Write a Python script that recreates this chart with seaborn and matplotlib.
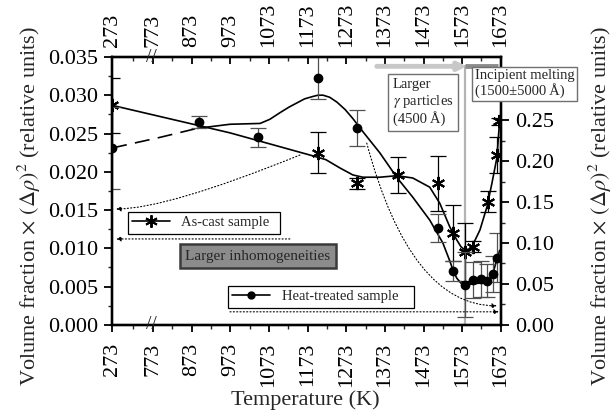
import numpy as np
import pandas as pd
import matplotlib
matplotlib.use('Agg')
import matplotlib.pyplot as plt
import seaborn as sns
from matplotlib.lines import Line2D
import matplotlib.transforms as mtransforms

# measured points: as-cast (left axis) and heat-treated (right axis)
cast_T = [273, 1200, 1300, 1407, 1510, 1549, 1580, 1600, 1639, 1662, 1668]
cast_v = [0.0287, 0.0225, 0.0185, 0.0196, 0.0185, 0.0120, 0.0095, 0.0102, 0.0161, 0.0222, 0.0266]
cast_err = [0.0036, 0.0027, 0.0007, 0.0024, 0.0036, 0.0037, 0.0038, 0.0007, 0.0014, 0.0023, 0.0005]

heat_T = [273, 892, 1045, 1200, 1300, 1510, 1549, 1580, 1600, 1621, 1636, 1652, 1662]
heat_v = [0.216, 0.248, 0.229, 0.302, 0.240, 0.118, 0.066, 0.049, 0.055, 0.056, 0.054, 0.062, 0.082]
heat_err = [0.050, 0.007, 0.012, 0.026, 0.022, 0.017, 0.012, 0.040, 0.022, 0.022, 0.020, 0.022, 0.030]

# fitted curves
cast_fit_T = [273, 972, 1179, 1220, 1257, 1290, 1316, 1360, 1404, 1445, 1489, 1515,
              1541, 1559, 1570, 1580, 1590, 1600, 1619, 1637, 1650, 1663, 1670]
cast_fit_v = [0.0287, 0.0251, 0.0222, 0.0216, 0.0205, 0.0196, 0.0193, 0.0193, 0.0195, 0.0192,
              0.0180, 0.0159, 0.0128, 0.0111, 0.0102, 0.0098, 0.0099, 0.0104, 0.0124, 0.0154,
              0.0185, 0.0219, 0.0268]
heat_dash_T = [273, 791, 887]
heat_dash_v = [0.216, 0.229, 0.240]
heat_fit_T = [887, 972, 1050, 1075, 1101, 1125, 1145, 1165, 1187, 1200, 1213, 1230, 1249,
              1270, 1290, 1316, 1360, 1404, 1445, 1489, 1523, 1541, 1550, 1559, 1570, 1580,
              1600, 1637, 1650, 1665, 1670]
heat_fit_v = [0.240, 0.245, 0.246, 0.251, 0.259, 0.266, 0.271, 0.276, 0.279, 0.2805, 0.2805,
              0.278, 0.272, 0.263, 0.252, 0.236, 0.210, 0.180, 0.156, 0.128, 0.100, 0.078,
              0.066, 0.057, 0.051, 0.049, 0.050, 0.052, 0.059, 0.083, 0.091]

x_ticks = [273, 773, 873, 973, 1073, 1173, 1273, 1373, 1473, 1573, 1673]
x_minor = [523, 823, 923, 1023, 1123, 1223, 1323, 1423, 1523, 1623]
left_ticks = [0.000, 0.005, 0.010, 0.015, 0.020, 0.025, 0.030, 0.035]
right_ticks = [0.00, 0.05, 0.10, 0.15, 0.20, 0.25]

sns.set_theme(style='ticks')
plt.rcParams['font.family'] = ['Liberation Serif', 'DejaVu Serif']
plt.rcParams['mathtext.fontset'] = 'stix'

# broken x axis: 273..773 squeezed
K = 0.212
def fwd(t):
    t = np.asarray(t, float)
    return np.where(t < 773, 773 - (773 - t) * K, t)
def inv(u):
    u = np.asarray(u, float)
    return np.where(u < 773, 773 - (773 - u) / K, u)

fig, ax = plt.subplots(figsize=(6.16, 4.17), dpi=100)
fig.subplots_adjust(left=0.182, right=0.813, bottom=0.221, top=0.863)
ax.set_xscale('function', functions=(fwd, inv))
ax2 = ax.twinx()
axt = ax.twiny()
axt.set_xscale('function', functions=(fwd, inv))

FS = 16
for a in (ax, ax2, axt):
    for s in a.spines.values():
        s.set_linewidth(1.6)
        s.set_color('black')

# incipient melting line (behind data)
ax.plot([1580, 1580], [0, 0.0338], color='#b4b4b4', lw=1.6, zorder=1)

# as-cast on left axis
cast_fit = pd.DataFrame({'T': cast_fit_T, 'v': cast_fit_v})
sns.lineplot(data=cast_fit, x='T', y='v', ax=ax, color='black', lw=1.2, sort=False, estimator=None)
ax.errorbar(cast_T, cast_v, yerr=cast_err, fmt='none', ecolor='black', elinewidth=0.9,
            capsize=5.5, capthick=0.9)
ax.plot(cast_T, cast_v, ls='none', marker=(6, 2, 0), ms=9.5, mew=1.5, color='black')

# heat-treated on right axis
heat_dash = pd.DataFrame({'T': heat_dash_T, 'v': heat_dash_v})
heat_fit = pd.DataFrame({'T': heat_fit_T, 'v': heat_fit_v})
sns.lineplot(data=heat_dash, x='T', y='v', ax=ax2, color='black', lw=1.2, sort=False,
             estimator=None, linestyle=(0, (9, 5)))
sns.lineplot(data=heat_fit, x='T', y='v', ax=ax2, color='black', lw=1.2, sort=False, estimator=None)
ax2.errorbar(heat_T, heat_v, yerr=heat_err, fmt='none', ecolor='#505050', elinewidth=0.9,
             capsize=5.5, capthick=0.9)
ax2.plot(heat_T, heat_v, ls='none', marker='o', ms=6, color='black')

ax.set_xlim(273, 1673)
axt.set_xlim(273, 1673)
ax.set_ylim(0, 0.035)
ax2.set_ylim(0, 0.327)
ax.set_xlabel('')
ax.set_ylabel('')
ax2.set_xlabel('')
ax2.set_ylabel('')

ax.set_xticks(x_ticks)
ax.set_xticks(x_minor, minor=True)
ax.set_xticklabels([str(t) for t in x_ticks], rotation=90, fontsize=FS)
axt.set_xticks(x_ticks)
axt.set_xticks(x_minor, minor=True)
axt.set_xticklabels([str(t) for t in x_ticks], rotation=90, fontsize=FS)
ax.set_yticks(left_ticks)
ax.set_yticks(np.arange(0.0025, 0.035, 0.005), minor=True)
ax.set_yticklabels(['%.3f' % v for v in left_ticks], fontsize=FS)
ax2.set_yticks(right_ticks)
ax2.set_yticks([0.025, 0.075, 0.125, 0.175, 0.225, 0.275], minor=True)
ax2.set_yticklabels(['%.2f' % v for v in right_ticks], fontsize=FS)

ax.tick_params(axis='x', which='major', direction='out', length=5, width=1.3, pad=8, colors='black')
ax.tick_params(axis='x', which='minor', direction='out', length=3, width=1.0, bottom=True)
ax.tick_params(axis='y', which='major', direction='out', length=6, width=1.3, pad=4, colors='black')
ax.tick_params(axis='y', which='minor', direction='out', length=3, width=1.0, left=True)
axt.tick_params(axis='x', which='major', direction='in', length=5, width=1.3, pad=7, colors='black')
axt.tick_params(axis='x', which='minor', direction='in', length=3, width=1.0, top=True)
ax2.tick_params(axis='y', which='major', direction='out', length=6, width=1.3, pad=4, colors='black')
ax2.tick_params(axis='y', which='minor', direction='out', length=3, width=1.0, right=True)

# axis break marks
brk = mtransforms.blended_transform_factory(ax.transData, ax.transAxes)
for yy in (0, 1):
    axt.text(752, yy, '//', transform=brk, ha='center', va='center', fontsize=14,
             clip_on=False, zorder=10)

ylab = r'Volume fraction $\times$ $(\Delta\rho)^2$ (relative units)'
fig.text(0.048, 0.506, ylab, rotation=90, ha='center', va='center', fontsize=FS)
fig.text(0.975, 0.506, ylab, rotation=90, ha='center', va='center', fontsize=FS)
fig.text(0.496, 0.040, 'Temperature (K)', ha='center', va='center', fontsize=FS)

# legends
h_cast = Line2D([], [], color='black', lw=1.2, marker=(6, 2, 0), ms=9, mew=1.4)
h_heat = Line2D([], [], color='black', lw=1.2, marker='o', ms=5)
leg1 = ax.legend([h_cast], ['As-cast sample  '], loc='upper left', bbox_to_anchor=(0.041, 0.422),
                 fancybox=False, edgecolor='black', framealpha=1, fontsize=10.5,
                 handlelength=2.6, handletextpad=0.7, borderpad=0.3, borderaxespad=0)
leg1.get_frame().set_linewidth(0.9)
leg2 = ax2.legend([h_heat], ['Heat-treated sample   '], loc='upper left', bbox_to_anchor=(0.298, 0.146),
                  fancybox=False, edgecolor='black', framealpha=1, fontsize=10.5,
                  handlelength=2.6, handletextpad=0.8, borderpad=0.3, borderaxespad=0)
leg2.get_frame().set_linewidth(0.9)

dot = dict(arrowstyle='-|>', linestyle=(0, (1, 2)), lw=0.8, color='black',
           mutation_scale=7, shrinkA=0, shrinkB=0)
axt.annotate('', xy=(322, 0.01123), xytext=(1127, 0.01123), arrowprops=dot)
axt.annotate('', xy=(322, 0.01515), xytext=(1153, 0.0222),
             arrowprops=dict(dot, connectionstyle='angle3,angleA=22,angleB=0'))
ax2.annotate('', xy=(1668, 0.0159), xytext=(972, 0.0159), arrowprops=dot)
ax2.annotate('', xy=(1663, 0.0232), xytext=(1326, 0.222),
             arrowprops=dict(dot, connectionstyle='angle3,angleA=-75,angleB=0'))

# temperature arrow and bar
axt.annotate('', xy=(1585, 0.0338), xytext=(1352, 0.0338),
             arrowprops=dict(arrowstyle='-|>', color='#c8c8c8', lw=3.5, mutation_scale=12,
                             shrinkA=0, shrinkB=0))
axt.plot([1580, 1665], [0.0338, 0.0338], color='#8c8c8c', lw=3.5, solid_capstyle='butt')

axt.text(1044, 0.0090, 'Larger inhomogeneities', ha='center', va='center', fontsize=11,
         bbox=dict(boxstyle='square,pad=0.35', facecolor='#8c8c8c', edgecolor='#3a3a3a', lw=1.8))
axt.text(1393, 0.0323, 'Larger\n$\\gamma$ particles\n(4500\u2009Å)', ha='left', va='top',
         fontsize=10.5, linespacing=1.15,
         bbox=dict(boxstyle='square,pad=0.3', facecolor='white', edgecolor='#707070', lw=1))
axt.text(1605, 0.0334, 'Incipient melting\n(1500±5000\u2009Å)', ha='left', va='top',
         fontsize=10.5, linespacing=1.1, clip_on=False, zorder=20,
         bbox=dict(boxstyle='square,pad=0.2', facecolor='white', edgecolor='#707070', lw=1))

fig.savefig('out.png', dpi=100)
